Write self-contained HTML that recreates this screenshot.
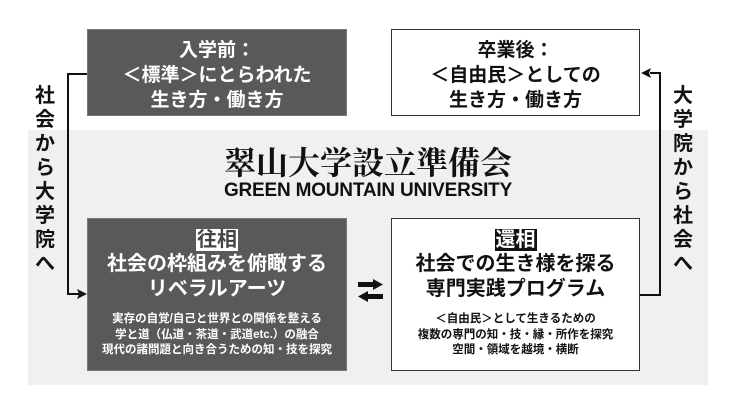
<!DOCTYPE html>
<html><head><meta charset="utf-8"><style>
body{margin:0;width:736px;height:414px;background:#fff;position:relative;overflow:hidden;font-family:"Liberation Sans","Noto Sans CJK JP",sans-serif;font-weight:bold;color:#111}
.a{position:absolute}
.box{position:absolute;box-sizing:border-box;text-align:center}
.dk{background:#595959;color:#fff;border:1px solid #777}
.wt{background:#fff;border:1.5px solid #333;color:#111}
.vt{position:absolute;width:24px;font-size:20px;line-height:24px;text-align:center}
</style></head><body>
<div class="a" style="left:28px;top:130px;width:680px;height:255px;background:#f0f0f0"></div>

<div class="box dk" style="left:87px;top:29px;width:260px;height:87px;font-size:19px;line-height:25px;padding-top:8px">入学前：<br>＜標準＞にとらわれた<br>生き方・働き方</div>
<div class="box wt" style="left:391px;top:29px;width:249px;height:87px;font-size:19px;line-height:25px;padding-top:8px">卒業後：<br>＜自由民＞としての<br>生き方・働き方</div>

<div class="a" style="left:0;width:736px;top:143px;text-align:center;font-family:'Noto Serif CJK SC','Liberation Serif',serif;font-weight:bold;font-size:32px;line-height:37px">翠山大学設立準備会</div>
<div class="a" style="left:0;width:736px;top:180px;text-align:center;font-size:19px;line-height:22px;letter-spacing:-0.2px">GREEN MOUNTAIN UNIVERSITY</div>

<div class="box dk" style="left:87px;top:218px;width:260px;height:153px;padding-top:9px">
<div style="font-size:20px;line-height:24px"><span style="background:#fff;color:#444;padding:0 1px">往相</span></div>
<div style="font-size:20px;line-height:25px">社会の枠組みを俯瞰する<br>リベラルアーツ</div>
<div style="font-size:11.5px;line-height:15.5px;margin-top:10px">実存の自覚/自己と世界との関係を整える<br>学と道（仏道・茶道・武道etc.）の融合<br>現代の諸問題と向き合うための知・技を探究</div>
</div>
<div class="box wt" style="left:391px;top:218px;width:249px;height:153px;padding-top:9px">
<div style="font-size:20px;line-height:24px"><span style="background:#111;color:#fff;padding:0 1px">還相</span></div>
<div style="font-size:20px;line-height:25px">社会での生き様を探る<br>専門実践プログラム</div>
<div style="font-size:11.5px;line-height:15.5px;margin-top:10px">＜自由民＞として生きるための<br>複数の専門の知・技・縁・所作を探究<br>空間・領域を越境・横断</div>
</div>

<svg class="a" style="left:0;top:0" width="736" height="414">
<g stroke="#111" stroke-width="2" fill="none">
<polyline points="87,74 68,74 68,294 80,294"/>
<polyline points="640,295 660,295 660,73 650,73"/>
</g>
<polygon points="87,294 77,289 79,294 77,299" fill="#111"/>
<polygon points="641,73 651,68 649,73 651,78" fill="#111"/>
<rect x="358" y="282" width="16" height="5" fill="#111"/>
<polygon points="383,284.5 373,279 373,290" fill="#111"/>
<rect x="367" y="294" width="16" height="5" fill="#111"/>
<polygon points="358,296.5 368,291 368,302" fill="#111"/>
</svg>

<div class="vt" style="left:33px;top:84px">社<br>会<br>か<br>ら<br>大<br>学<br>院<br>へ</div>
<div class="vt" style="left:671px;top:84px">大<br>学<br>院<br>か<br>ら<br>社<br>会<br>へ</div>
</body></html>
